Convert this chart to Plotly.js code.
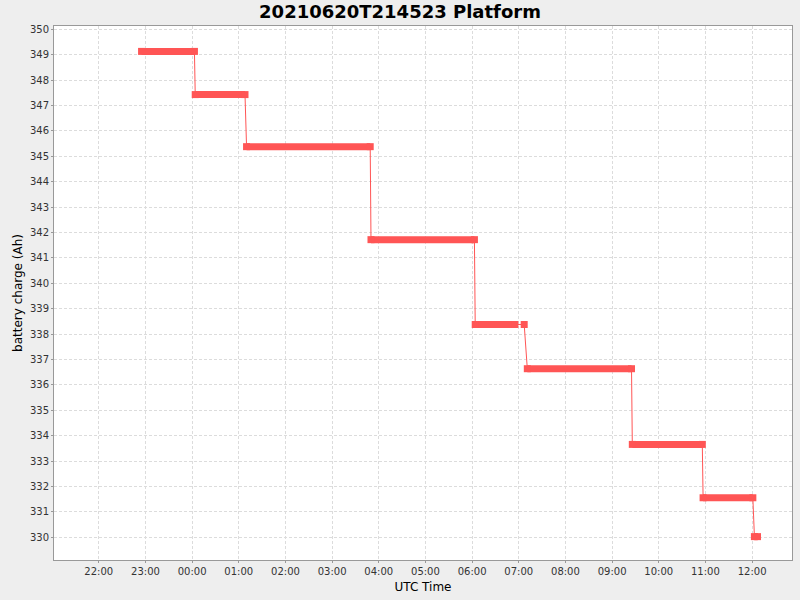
<!DOCTYPE html>
<html>
<head>
<meta charset="utf-8">
<script src="https://cdn.plot.ly/plotly-3.0.1.min.js"></script>
<style>
html,body{margin:0;padding:0;background:#eeeeee;}
#chart{width:800px;height:600px;}
</style>
</head>
<body>
<div id="chart"></div>
<script>
// Battery charge levels (Ah), each held between a start and end sample time (UTC)
const stepStart  = ["2021-06-20 22:55","2021-06-21 00:04","2021-06-21 01:10","2021-06-21 03:50","2021-06-21 06:04","2021-06-21 07:07","2021-06-21 07:11","2021-06-21 09:26","2021-06-21 10:57","2021-06-21 12:03"];
const stepEnd    = ["2021-06-21 00:03","2021-06-21 01:08","2021-06-21 03:49","2021-06-21 06:03","2021-06-21 06:55","2021-06-21 07:07","2021-06-21 09:25","2021-06-21 10:56","2021-06-21 12:01","2021-06-21 12:07"];
const stepCharge = [349.13, 347.43, 345.38, 341.72, 338.38, 338.38, 336.64, 333.66, 331.56, 330.03];

const titleText = "20210620T214523 Platform";
const xTitle = "UTC Time";
const yTitle = "battery charge (Ah)";

const red = "#FF5555";

// thick runs of samples
const bx = [], by = [];
// full sample path (thin line + square markers)
const px = [], py = [];
for (let i = 0; i < stepCharge.length; i++) {
  bx.push(stepStart[i], stepEnd[i], null);
  by.push(stepCharge[i], stepCharge[i], null);
  px.push(stepStart[i]);
  py.push(stepCharge[i]);
  if (stepEnd[i] !== stepStart[i]) { px.push(stepEnd[i]); py.push(stepCharge[i]); }
}

const traces = [
  {x: bx, y: by, type: "scatter", mode: "lines", connectgaps: false,
   line: {color: red, width: 7}, hoverinfo: "skip", showlegend: false},
  {x: px, y: py, type: "scatter", mode: "lines+markers",
   line: {color: red, width: 1},
   marker: {symbol: "square", size: 7, color: red, line: {width: 0}},
   showlegend: false}
];

const layout = {
  width: 800, height: 600,
  paper_bgcolor: "#eeeeee",
  plot_bgcolor: "#ffffff",
  margin: {l: 54, r: 8, t: 26, b: 40, pad: 0},
  font: {family: "DejaVu Sans, sans-serif", size: 10, color: "#333333"},
  title: {text: titleText, font: {family: "DejaVu Sans, sans-serif", size: 18, color: "#000000", weight: "bold"},
          x: 0.5, xanchor: "center", y: 1 - 12/600, yref: "container", yanchor: "middle"},
  xaxis: {
    type: "date",
    range: ["2021-06-20 21:02:25", "2021-06-21 12:51:20"],
    tick0: "2021-06-20 22:00", dtick: 3600000, tickformat: "%H:%M",
    ticks: "outside", ticklen: 2, tickcolor: "#999999",
    showline: true, linecolor: "#999999", linewidth: 1, mirror: true,
    showgrid: true, gridcolor: "#dcdcdc", griddash: "3px,2px", gridwidth: 1,
    zeroline: false,
    tickfont: {family: "DejaVu Sans, sans-serif", size: 10, color: "#333333"},
    title: {text: xTitle, font: {family: "DejaVu Sans, sans-serif", size: 12, color: "#000000"}, standoff: 6}
  },
  yaxis: {
    range: [329.11, 350.13],
    tick0: 330, dtick: 1,
    ticks: "outside", ticklen: 2, tickcolor: "#999999",
    showline: true, linecolor: "#999999", linewidth: 1, mirror: true,
    showgrid: true, gridcolor: "#dcdcdc", griddash: "3px,2px", gridwidth: 1,
    zeroline: false,
    tickfont: {family: "DejaVu Sans, sans-serif", size: 10, color: "#333333"},
    title: {text: yTitle, font: {family: "DejaVu Sans, sans-serif", size: 12, color: "#000000"}, standoff: 4}
  }
};

Plotly.newPlot("chart", traces, layout, {displayModeBar: false, staticPlot: true});
</script>
</body>
</html>
